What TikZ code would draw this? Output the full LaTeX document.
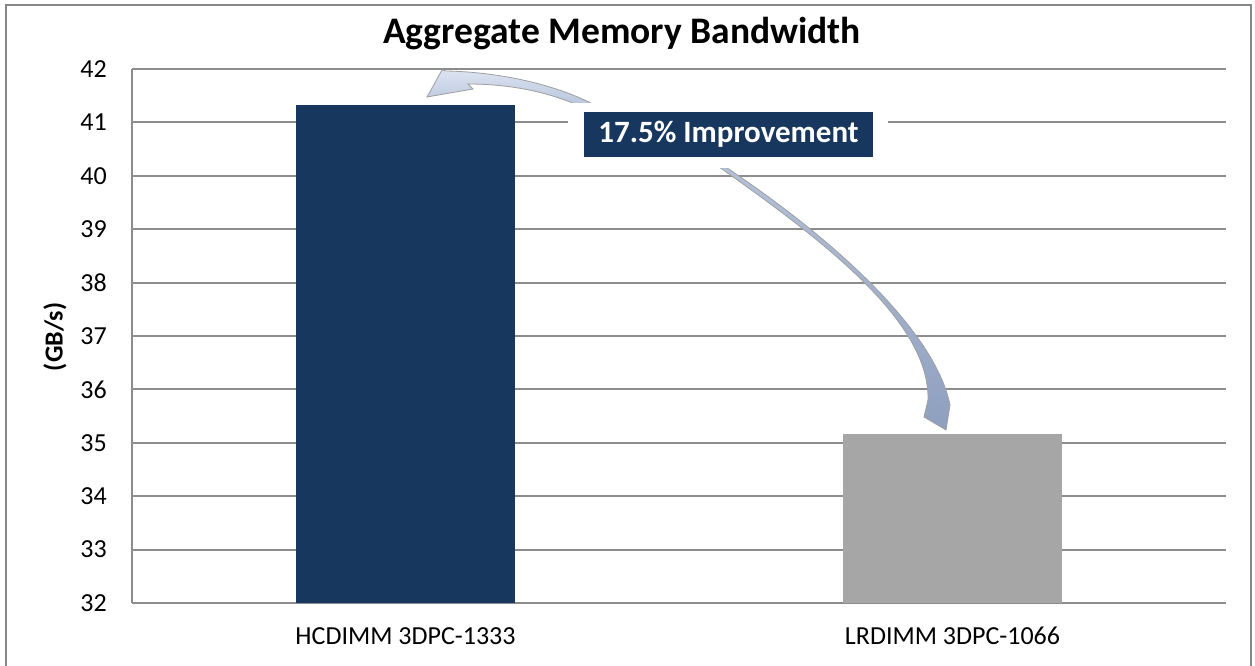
\documentclass[tikz,border=0pt]{standalone}
\usepackage{fontspec}
\setmainfont{Carlito}
\usetikzlibrary{positioning}

\definecolor{barnavy}{HTML}{17375E}
\definecolor{bargray}{HTML}{A6A6A6}
\definecolor{gridgray}{HTML}{8C8C8C}
\definecolor{framegray}{HTML}{878787}
\definecolor{arrowlight}{HTML}{DCE4F1}
\definecolor{arrowmid}{HTML}{B4C2DA}
\definecolor{arrowdark}{HTML}{8E9FBF}

\tikzset{
  gridln/.style={gridgray, line width=2pt},
  ticklbl/.style={anchor=east, inner sep=0pt, font=\fontsize{26}{26}\selectfont},
  catlbl/.style={inner sep=0pt, font=\fontsize{26}{26}\selectfont},
  bar/.style={inner sep=0pt, minimum width=219pt, anchor=south},
  bendarrow/.style={draw=gray!75, line width=0.8pt},
}

\begin{document}
\begin{tikzpicture}[x=1pt,y=-1pt]
\useasboundingbox (0,0) rectangle (1255,666);
\clip (0,0) rectangle (1255,666);
\fill[white] (0,0) rectangle (1255,666);
\draw[framegray, line width=2pt] (6,5) rectangle (1251,700);

% title
\node[font=\bfseries\fontsize{37.5}{37.5}\selectfont] (title) at (622,34) {Aggregate Memory Bandwidth};

% gridlines and values, 32..42 GB/s
\foreach \v in {32,...,42} {
  \draw[gridln] (132,{603-(\v-32)*53.4}) -- (1226,{603-(\v-32)*53.4});
  \node[ticklbl] (y\v) at (107,{603-(\v-32)*53.4}) {\v};
}
\draw[gridln] (132,69) -- (132,603);
\node[rotate=90, font=\bfseries\fontsize{26}{26}\selectfont] (unit) at (55,337) {(GB/s)};

% bars: 41.33 and 35.17
\node[bar, fill=barnavy, minimum height={(41.33-32)*53.4}] (hcdimm) at (405.5,603) {};
\node[bar, fill=bargray, minimum height={(35.17-32)*53.4}] (lrdimm) at (952.5,603) {};
\node[catlbl, below=24pt of hcdimm.south] (hclbl) {HCDIMM 3DPC-1333};
\node[catlbl, below=24pt of lrdimm.south] (lrlbl) {LRDIMM 3DPC-1066};

% curved block arrows
\path[bendarrow, top color=arrowlight, bottom color=arrowmid]
  (427,97) -- (442,70) -- (446,71)
  .. controls (500,72) and (560,85) .. (600,108) -- (584,108)
  .. controls (550,92) and (510,84) .. (468,84) -- (473,89) -- cycle;
\path[bendarrow, top color=arrowmid, bottom color=arrowdark]
  (715,160) .. controls (830,235) and (935,330) .. (950,405) -- (946,430)
  -- (924,417) -- (928,400) .. controls (930,320) and (820,238) .. (712,162) -- cycle;

% label on a white patch
\fill[white] (568,103) rectangle (888,168);
\node[fill=barnavy, text=white, font=\bfseries\fontsize{31}{31}\selectfont,
  minimum width=289pt, minimum height=45pt, inner sep=0pt] (gain) at (728.5,134.5) {17.5\% Improvement};
\end{tikzpicture}
\end{document}
